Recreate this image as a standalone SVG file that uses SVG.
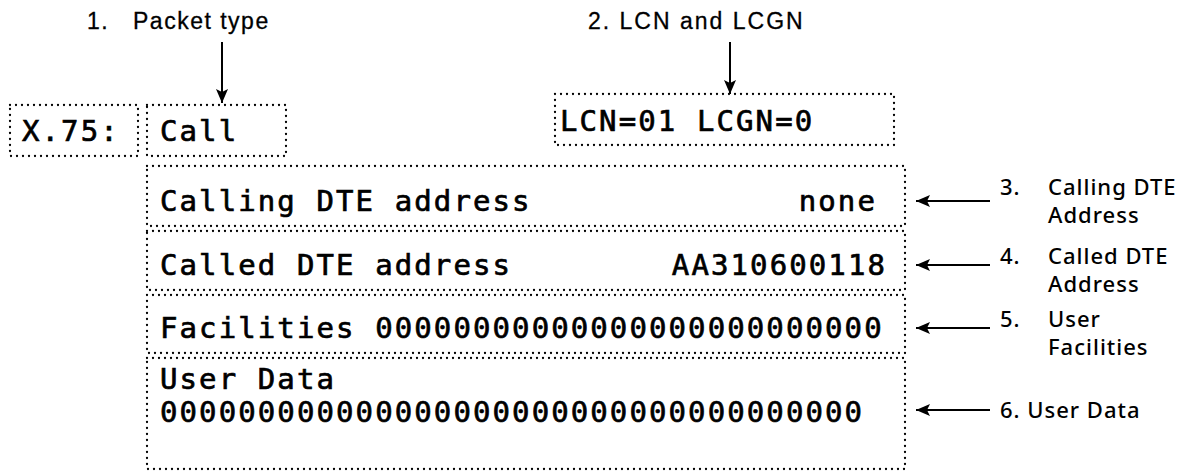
<svg xmlns="http://www.w3.org/2000/svg" width="1199" height="471" viewBox="0 0 1199 471">
<style>
.box{fill:none;stroke:#000;stroke-width:2.3;stroke-dasharray:0 6;stroke-linecap:round}
.mono{font-family:"DejaVu Sans Mono","Liberation Mono",monospace;font-size:29px;letter-spacing:2.1px;fill:#000;stroke:#000;stroke-width:0.7px}
.lbl{font-family:"Liberation Sans",Arial,sans-serif;font-size:23px;fill:#000;letter-spacing:1.5px;stroke:#000;stroke-width:0.3px}
.rl{font-family:"Noto Sans","Open Sans",sans-serif;font-size:22px;font-weight:500;letter-spacing:1px;fill:#000}
.conn{stroke:#000;stroke-width:2;fill:none}
</style>
<defs>
<marker id="ah" viewBox="0 0 14 12" refX="14" refY="6" markerWidth="14" markerHeight="12" markerUnits="userSpaceOnUse" orient="auto">
<path d="M0,0 L14,6 L0,12 L3,6 Z" fill="#000"/>
</marker>
</defs>
<rect width="1199" height="471" fill="#fff"/>
<g id="label-packet-type"><text class="lbl" x="87" y="29">1.</text><text class="lbl" x="133" y="29">Packet type</text></g>
<g id="label-lcn"><text class="lbl" x="588" y="29" style="letter-spacing:2px">2. LCN and LCGN</text></g>
<g id="node-x75"><rect class="box" x="10" y="105" width="128" height="51"/><text class="mono" x="22" y="141">X.75:</text></g>
<g id="node-call"><rect class="box" x="147" y="105" width="139" height="51"/><text class="mono" x="160" y="141">Call</text></g>
<g id="node-lcn"><rect class="box" x="555" y="94" width="339" height="51"/><text class="mono" x="560" y="131">LCN=01 LCGN=0</text></g>
<g id="node-calling"><rect class="box" x="147" y="166" width="758" height="60"/><text class="mono" x="160" y="211">Calling DTE address</text><text class="mono" x="877" y="211" text-anchor="end">none</text></g>
<g id="node-called"><rect class="box" x="147" y="231" width="758" height="59"/><text class="mono" x="160" y="275">Called DTE address</text><text class="mono" x="887" y="275" text-anchor="end">AA310600118</text></g>
<g id="node-facilities"><rect class="box" x="147" y="295" width="758" height="58"/><text class="mono" x="160" y="338">Facilities 00000000000000000000000000</text></g>
<g id="node-userdata"><rect class="box" x="147" y="358" width="758" height="111"/><text class="mono" x="160" y="389">User Data</text><text class="mono" x="160" y="422">000000000000000000000000000000000000</text></g>
<g id="label-calling"><text class="rl" x="1000" y="195">3.</text><text class="rl" x="1048" y="195">Calling DTE</text><text class="rl" x="1048" y="223">Address</text></g>
<g id="label-called"><text class="rl" x="1000" y="264">4.</text><text class="rl" x="1048" y="264">Called DTE</text><text class="rl" x="1048" y="292">Address</text></g>
<g id="label-facilities"><text class="rl" x="1000" y="327">5.</text><text class="rl" x="1048" y="327">User</text><text class="rl" x="1048" y="355">Facilities</text></g>
<g id="label-userdata"><text class="rl" x="1000" y="418">6. User Data</text></g>
<g id="connectors">
<line class="conn" x1="222" y1="42" x2="222" y2="103" marker-end="url(#ah)"/>
<line class="conn" x1="730" y1="42" x2="730" y2="94" marker-end="url(#ah)"/>
<line class="conn" x1="990" y1="201" x2="916" y2="201" marker-end="url(#ah)"/>
<line class="conn" x1="990" y1="265" x2="916" y2="265" marker-end="url(#ah)"/>
<line class="conn" x1="990" y1="328" x2="916" y2="328" marker-end="url(#ah)"/>
<line class="conn" x1="990" y1="410" x2="916" y2="410" marker-end="url(#ah)"/>
</g>
</svg>
